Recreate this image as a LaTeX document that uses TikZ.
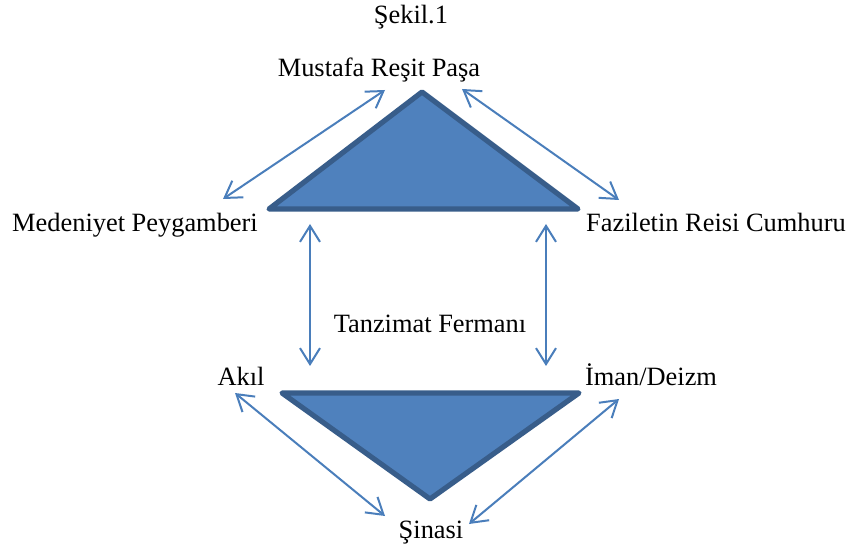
\documentclass[tikz,border=0pt]{standalone}
\usepackage{fontspec}
\setmainfont{Liberation Serif}
\usetikzlibrary{positioning, arrows.meta}

\definecolor{triblue}{HTML}{4F81BD}
\definecolor{triedge}{HTML}{385D8A}
\definecolor{arrowblue}{HTML}{4A7EBB}

\begin{document}
\begin{tikzpicture}[x=0.5pt, y=-0.5pt, font=\fontsize{13.2}{16}\selectfont,
		lbl/.style={anchor=base, inner sep=0pt},
		tri/.style={fill=triblue, draw=triedge, line width=2.6pt, line join=round},
		link/.style={draw=arrowblue, line width=1pt, {Straight Barb[length=8pt, width=10pt]}-{Straight Barb[length=8pt, width=10pt]}}]
		\useasboundingbox (0,0) rectangle (850,549);
		
		\node[lbl] (title) at (411,24) {Şekil.1};
		\node[lbl] (pasa) at (379,77) {Mustafa Reşit Paşa};
		\node[lbl] (medeniyet) at (135,232) {Medeniyet Peygamberi};
		\node[lbl] (fazilet) at (716,232) {Faziletin Reisi Cumhuru};
		\node[lbl] (ferman) at (430,333) {Tanzimat Fermanı};
		\node[lbl] (akil) at (241,386) {Akıl};
		\node[lbl] (iman) at (651,386) {İman/Deizm};
		\node[lbl] (sinasi) at (431,538) {Şinasi};
		
		% ust ve alt ucgen
		\draw[tri] (422,92)--(269,209)--(578,209)--cycle;
		\draw[tri] (282,393)--(579,393)--(430,499)--cycle;
		
		\coordinate (p1) at (223,199);
		\coordinate (p2) at (385,90);
		\coordinate (p3) at (462,89);
		\coordinate (p4) at (619,200);
		\coordinate (p5) at (310,224);
		\coordinate (p6) at (310,366);
		\coordinate (p7) at (546,224);
		\coordinate (p8) at (546,366);
		\coordinate (p9) at (235,393);
		\coordinate (p10) at (385,516);
		\coordinate (p11) at (619,399);
		\coordinate (p12) at (469,524);
		
		\draw[link] (p1) -- (p2);
		\draw[link] (p3) -- (p4);
		\draw[link] (p5) -- (p6);
		\draw[link] (p7) -- (p8);
		\draw[link] (p9) -- (p10);
		\draw[link] (p11) -- (p12);
	\end{tikzpicture}
\end{document}
